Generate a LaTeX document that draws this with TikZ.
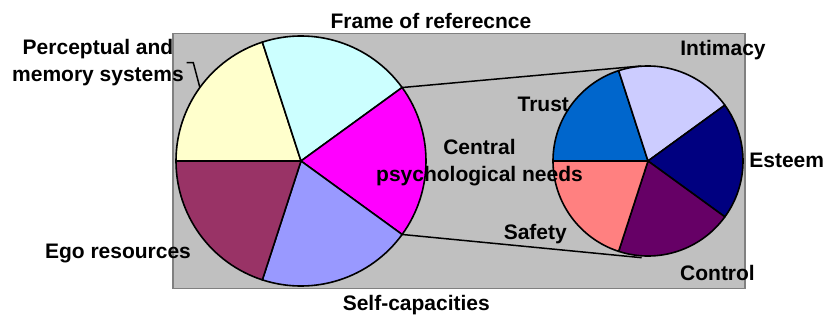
\documentclass[tikz,border=0pt]{standalone}
\usepackage{fontspec}
\setmainfont{Liberation Sans}
\definecolor{pyellow}{HTML}{FFFFCC}
\definecolor{pcyan}{HTML}{CCFFFF}
\definecolor{pmag}{HTML}{FF00FF}
\definecolor{pperi}{HTML}{9999FF}
\definecolor{pmaroon}{HTML}{993366}
\definecolor{ptrust}{HTML}{0066CC}
\definecolor{pintim}{HTML}{CCCCFF}
\definecolor{pesteem}{HTML}{000080}
\definecolor{pcontrol}{HTML}{660066}
\definecolor{psafety}{HTML}{FF8080}
\definecolor{panelfill}{HTML}{C0C0C0}
\definecolor{panelline}{HTML}{808080}
\begin{document}
\begin{tikzpicture}[x=1pt,y=1pt,
  lbl/.style={font=\bfseries\fontsize{21}{27.5}\selectfont, inner sep=0pt, anchor=base, align=center},
  slice/.style={draw=black, line width=1.6pt, line join=round},
  conn/.style={draw=black, line width=1.5pt},
  panelbox/.style={draw=panelline, fill=panelfill, line width=1.2pt, inner sep=0pt, minimum width=572pt, minimum height=255pt}]
\useasboundingbox (0,0) rectangle (828,322);
\node[panelbox] (panel) at (459,161) {};
% big pie
\coordinate (B) at (301,161);
\foreach \a/\b/\c in {108/180/pyellow, 36/108/pcyan, -36/36/pmag, -108/-36/pperi, 180/252/pmaroon}
  \filldraw[slice, fill=\c] (B) -- ++(\a:125) arc[start angle=\a, end angle=\b, radius=125] -- cycle;
% small pie
\coordinate (S) at (648,161);
\foreach \a/\b/\c in {108/180/ptrust, 36/108/pintim, -36/36/pesteem, -108/-36/pcontrol, 180/252/psafety}
  \filldraw[slice, fill=\c] (S) -- ++(\a:95) arc[start angle=\a, end angle=\b, radius=95] -- cycle;
% connectors
\path (B) ++(36:125) coordinate (bt);
\path (B) ++(-36:125) coordinate (bb);
\coordinate (st) at (641,256);
\coordinate (sb) at (641.7,64.3);
\draw[conn] (bt) -- (st);
\draw[conn] (bb) -- (sb);
% labels
\node[lbl] (frame) at (431,293.7) {Frame of referecnce};
\node[lbl] (percept) at (98,240.3) {Perceptual and\\memory systems};
\node[lbl] (ego) at (118,63.7) {Ego resources};
\node[lbl] (selfcap) at (416.3,12) {Self-capacities};
\node[lbl] (central) at (479.5,140.3) {Central\\psychological needs};
\node[lbl] (trust) at (543.3,210.3) {Trust};
\node[lbl] (intimacy) at (723,266.3) {Intimacy};
\node[lbl] (esteem) at (786.7,154.3) {Esteem};
\node[lbl] (safety) at (535.3,82.7) {Safety};
\node[lbl] (control) at (717.5,42) {Control};
% leader
\coordinate (ldr) at (186.7,259.3);
\path (B) ++(144:125) coordinate (lend);
\draw[conn] (ldr) -- ++(6.6,0) -- (lend);
\end{tikzpicture}
\end{document}
